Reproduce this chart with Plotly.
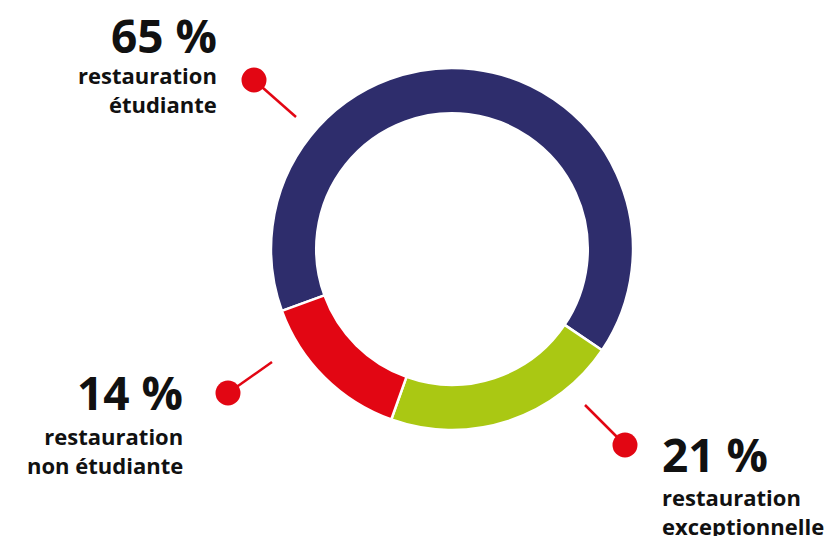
import plotly.graph_objects as go

categories = ["restauration étudiante", "restauration exceptionnelle", "restauration non étudiante"]
values = [65, 21, 14]
colors = ["#2E2D6C", "#AAC813", "#E20613"]
pct_labels = ["65 %", "21 %", "14 %"]
desc_labels = ["restauration<br>étudiante", "restauration<br>exceptionnelle", "restauration<br>non étudiante"]

W, H = 839, 536
OFF = 8  # page body margin
def px(x): return (x - OFF) / W
def py(y): return 1 - (y - OFF) / H

cx, cy, R = 452, 249, 181

fig = go.Figure(go.Pie(
    labels=categories, values=values, sort=False, direction="clockwise",
    rotation=-110, hole=0.75,
    marker=dict(colors=colors, line=dict(color="white", width=2.5)),
    textinfo="none", hoverinfo="label+percent", showlegend=False,
    domain=dict(x=[px(cx - R), px(cx + R)], y=[py(cy + R), py(cy - R)]),
))

FONT = "Open Sans"
red = "#E20613"
# label blocks: (x, pct y center, desc y center, anchor)
blocks = [
    (219, 35, 89, "right"),
    (660, 454, 511, "left"),
    (185, 392, 450, "right"),
]
for i, (x, yp, yd, anc) in enumerate(blocks):
    fig.add_annotation(x=px(x), y=py(yp), xref="paper", yref="paper", xanchor=anc, yanchor="middle",
                       text="<b>" + pct_labels[i] + "</b>", showarrow=False,
                       font=dict(family=FONT, size=46, color="#111111"), align=anc)
    fig.add_annotation(x=px(x), y=py(yd), xref="paper", yref="paper", xanchor=anc, yanchor="middle",
                       text="<b>" + desc_labels[i] + "</b>", showarrow=False,
                       font=dict(family=FONT, size=22, color="#111111"), align=anc)

# connector decorations (dot + line), pixel positions
connectors = [((254, 80), (296, 117)), ((625, 445), (585, 405)), ((228, 393), (272, 362))]
for (dx, dy), (ex, ey) in connectors:
    fig.add_shape(type="line", xref="paper", yref="paper", x0=px(dx), y0=py(dy), x1=px(ex), y1=py(ey),
                  line=dict(color=red, width=2.5))
    r = 12.5
    fig.add_shape(type="circle", xref="paper", yref="paper", x0=px(dx - r), x1=px(dx + r),
                  y0=py(dy + r), y1=py(dy - r), fillcolor=red, line=dict(width=0))

fig.update_layout(width=W, height=H, margin=dict(l=0, r=0, t=0, b=0),
                  paper_bgcolor="white", plot_bgcolor="white")
fig.write_html("out.html")
